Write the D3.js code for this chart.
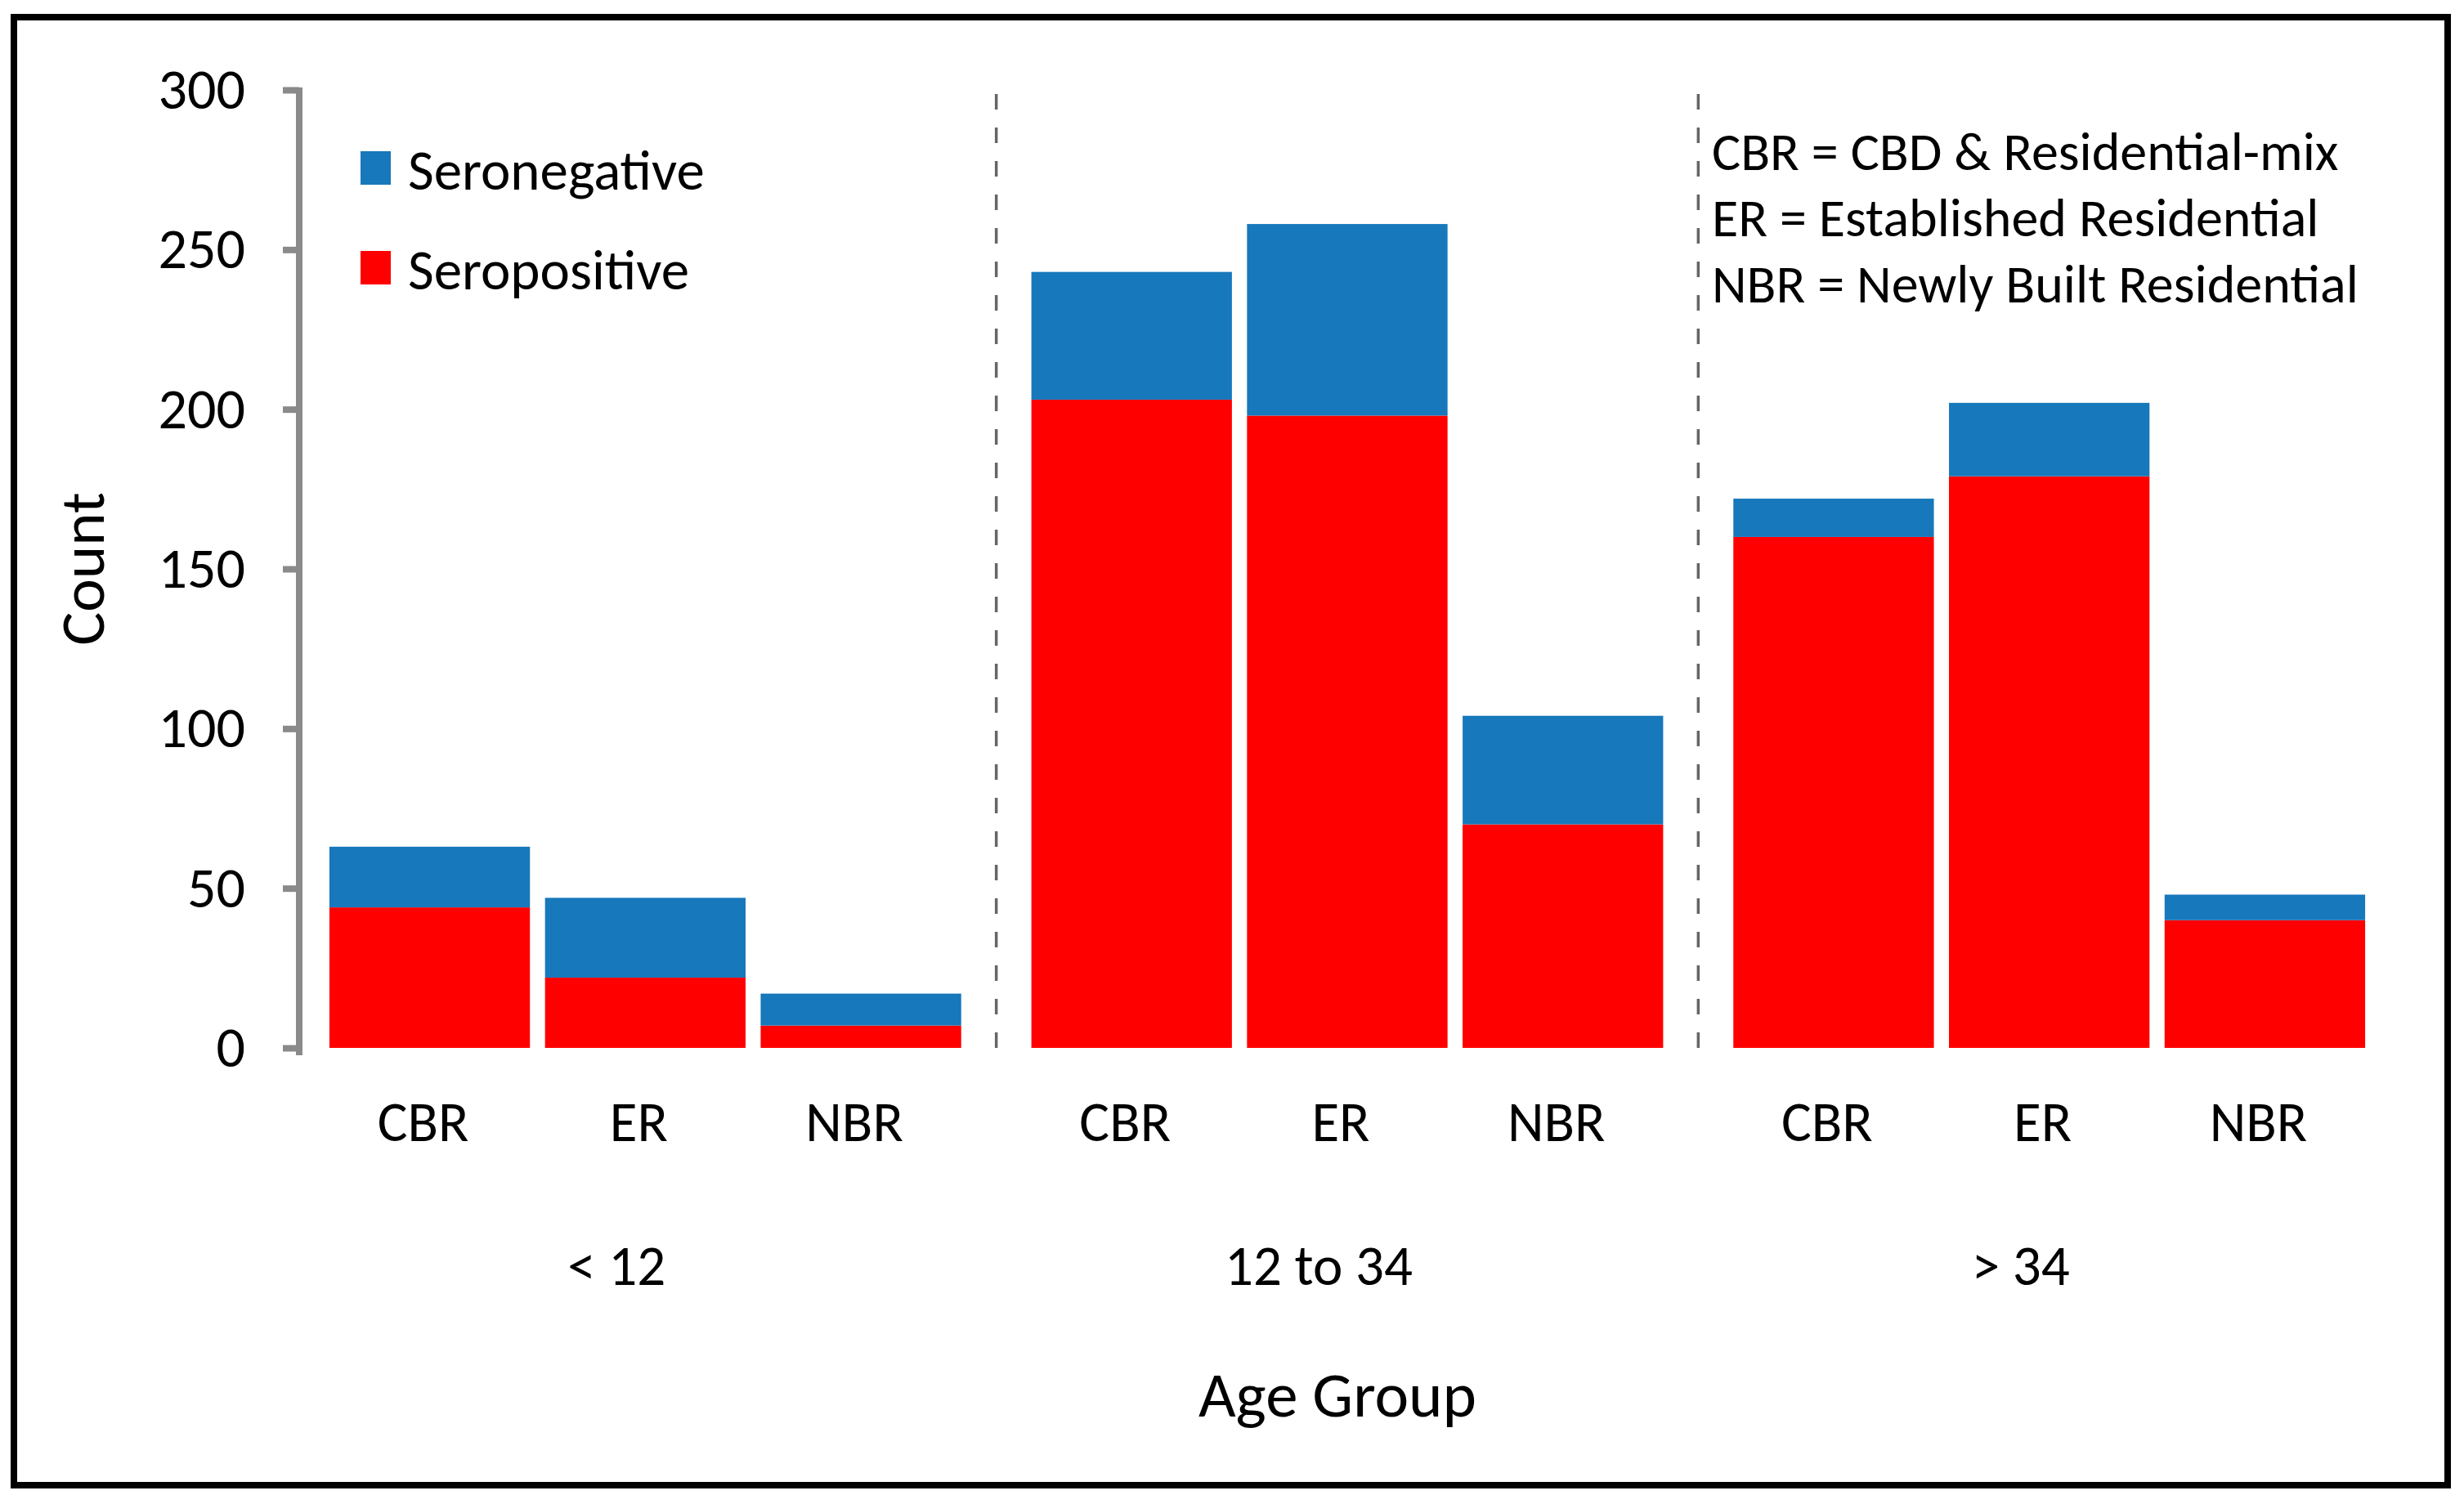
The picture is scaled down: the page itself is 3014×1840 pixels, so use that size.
<!DOCTYPE html>
<html>
<head>
<meta charset="utf-8">
<script src="https://cdn.jsdelivr.net/npm/d3@7"></script>
<style>
  body { margin: 0; background: #ffffff; }
  text { font-family: Carlito, Lato, "Open Sans", sans-serif; fill: #000; }
</style>
</head>
<body>
<div class="visual-data"></div>
<script>
// chart data
const ageGroups = ["< 12", "12 to 34", "> 34"];
const areas = ["CBR", "ER", "NBR"];
const seropositive = [[44, 22, 7], [203, 198, 70], [160, 179, 40]];
const seronegative = [[19, 25, 10], [40, 60, 34], [12, 23, 8]];
const yTicks = [0, 50, 100, 150, 200, 250, 300];
const legendLabels = ["Seronegative", "Seropositive"];
const notes = ["CBR = CBD & Residential-mix", "ER = Established Residential", "NBR = Newly Built Residential"];

const width = 3014;
const height = 1840;
const blue = "#1778bb";
const red = "#ff0000";

var svg = d3.select(".visual-data")
            .append("svg")
            .attr("width", width)
            .attr("height", height)
            .style("background-color", "#FFFFFF");

// outer frame
svg.append("rect")
   .attr("x", 17).attr("y", 21)
   .attr("width", 2977).attr("height", 1796)
   .attr("fill", "none")
   .attr("stroke", "#000")
   .attr("stroke-width", 8);

//Scales
const yScale = d3.scaleLinear().domain([0, 300]).range([1282, 110]);
const x0 = d3.scaleBand().domain(ageGroups).range([360, 2936]).paddingInner(0.1).paddingOuter(0.05);
const x1 = d3.scaleBand().domain(areas).range([0, x0.bandwidth()]).paddingInner(0.07);

// flatten to rows for the stacked bars
var rows = [];
ageGroups.forEach((g, gi) => {
  areas.forEach((a, ai) => {
    rows.push({group: g, area: a, pos: seropositive[gi][ai], neg: seronegative[gi][ai]});
  });
});

// dashed separators between age groups
ageGroups.slice(0, -1).forEach(g => {
  var xs = x0(g) + x0.bandwidth() + (x0.step() - x0.bandwidth()) / 2;
  svg.append("line")
     .attr("x1", xs).attr("x2", xs)
     .attr("y1", yScale(300) + 5).attr("y2", yScale(0))
     .attr("stroke", "#666")
     .attr("stroke-width", 3.5)
     .attr("stroke-dasharray", "19 22");
});

//Bars
var bars = svg.append("g").selectAll("g")
              .data(rows)
              .enter().append("g")
              .attr("transform", d => "translate(" + (x0(d.group) + x1(d.area)) + ",0)");
bars.append("rect")
    .attr("x", 0)
    .attr("width", x1.bandwidth())
    .attr("y", d => yScale(d.pos))
    .attr("height", d => yScale(0) - yScale(d.pos))
    .attr("fill", red);
bars.append("rect")
    .attr("x", 0)
    .attr("width", x1.bandwidth())
    .attr("y", d => yScale(d.pos + d.neg))
    .attr("height", d => yScale(d.pos) - yScale(d.pos + d.neg))
    .attr("fill", blue);

//Y axis
const yAxis = d3.axisLeft(yScale).tickValues(yTicks).tickSize(20).tickSizeOuter(0).tickPadding(46);
var yg = svg.append("g")
            .attr("id", "y-axis")
            .attr("transform", "translate(366, 0)")
            .call(yAxis);
yg.select(".domain").attr("stroke", "#8a8a8a").attr("stroke-width", 8)
  .attr("d", "M0," + (yScale(300) - 3) + "V" + (yScale(0) + 9));
yg.selectAll(".tick line").attr("stroke", "#8a8a8a").attr("stroke-width", 8);
yg.selectAll(".tick text").attr("font-size", 70).attr("fill", "#000")
  .style("font-family", "Carlito, Lato, sans-serif");

//Category labels
svg.append("g").selectAll("text")
   .data(rows)
   .enter().append("text")
   .attr("x", d => x0(d.group) + x1(d.area) + x1.bandwidth() / 2 - 8)
   .attr("y", yScale(0) + 114)
   .attr("text-anchor", "middle")
   .attr("font-size", 69)
   .text(d => d.area);

//Age group labels
svg.append("g").selectAll("text")
   .data(ageGroups)
   .enter().append("text")
   .attr("x", d => x0(d) + x0.bandwidth() / 2 - 35)
   .attr("y", yScale(0) + 290)
   .attr("text-anchor", "middle")
   .attr("font-size", 69)
   .text(d => d);

//Axis titles
svg.append("text")
   .attr("x", 1636)
   .attr("y", 1733)
   .attr("text-anchor", "middle")
   .attr("font-size", 79)
   .text("Age Group");
svg.append("text")
   .attr("transform", "translate(127," + ((yScale(0) + yScale(300)) / 2) + ") rotate(-90)")
   .attr("text-anchor", "middle")
   .attr("font-size", 77)
   .text("Count");

//Legend
var legend = svg.append("g").selectAll("g")
                .data(legendLabels)
                .enter().append("g")
                .attr("transform", (d, i) => "translate(441," + (185 + i * 122) + ")");
legend.append("rect")
      .attr("width", 37).attr("height", 41)
      .attr("fill", (d, i) => i == 0 ? blue : red);
legend.append("text")
      .attr("x", 58).attr("y", 47)
      .attr("font-size", 69)
      .text(d => d);

//Abbreviation notes
svg.append("g").selectAll("text")
   .data(notes)
   .enter().append("text")
   .attr("x", 2094)
   .attr("y", (d, i) => 208 + i * 81)
   .attr("font-size", 66)
   .text(d => d);
</script>
</body>
</html>
